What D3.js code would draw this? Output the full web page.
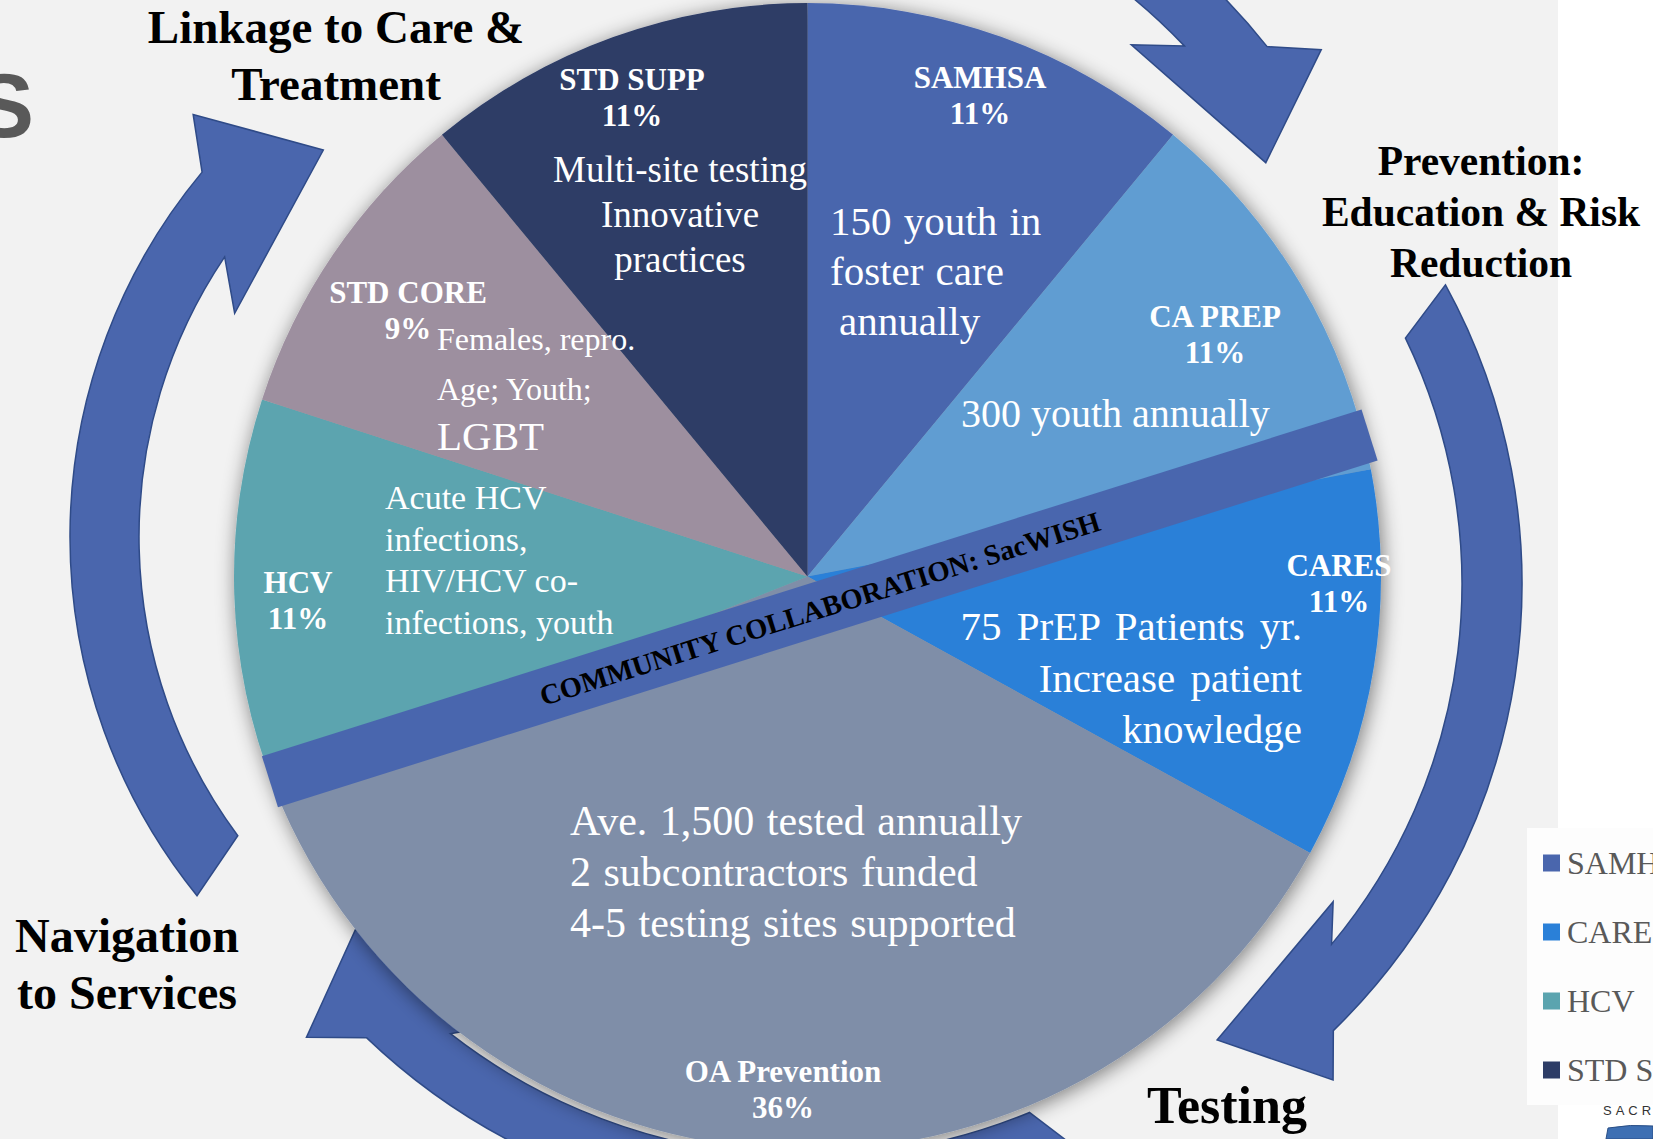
<!DOCTYPE html>
<html>
<head>
<meta charset="utf-8">
<script src="https://cdn.jsdelivr.net/npm/d3@7"></script>
<style>
  html, body { margin: 0; padding: 0; background: #fff; overflow: hidden; }
  svg { display: block; font-family: "Liberation Serif", "Times New Roman", serif; }
</style>
</head>
<body>
<svg id="chart" width="1653" height="1139"></svg>
<script>
// ---- data ----
const categories = ["SAMHSA", "CA PREP", "CARES", "OA Prevention", "HCV", "STD CORE", "STD SUPP"];
const shares = [11, 11, 11, 36, 11, 9, 11];
const sliceColors = ["#4a66ad", "#619dd2", "#2a80d8", "#7f8ea8", "#5ba4af", "#9d8f9f", "#2d3c66"];
const notes = [
  ["150 youth in", "foster care", "annually"],
  ["300 youth annually"],
  ["75 PrEP Patients yr.", "Increase patient", "knowledge"],
  ["Ave. 1,500 tested annually", "2 subcontractors funded", "4-5 testing sites supported"],
  ["Acute HCV", "infections,", "HIV/HCV co-", "infections, youth"],
  ["Females, repro.", "Age; Youth;", "LGBT"],
  ["Multi-site testing", "Innovative", "practices"]
];
const legendItems = ["SAMHSA", "CARES", "HCV", "STD SUPP"];
const stages = [
  ["Linkage to Care &", "Treatment"],
  ["Prevention:", "Education & Risk", "Reduction"],
  ["Testing"],
  ["Navigation", "to Services"]
];
const bandLabel = "COMMUNITY COLLABORATION: SacWISH";

// ---- layout ----
const W = 1653, H = 1139;
const cx = 807.5, cy = 576.6, R = 573.5;

// name + percent label of each slice
const nameAt = [[980, 88], [1215, 327], [1339, 576], [783, 1082], [298, 593], [408, 303], [632, 90]];
// free text of each slice
const noteAt = [
  { x: 830, y: 235, size: 41, anchor: "start", gap: 50, indent: [0, 0, 9], ws: 2 },
  { x: 961, y: 427, size: 40, anchor: "start", gap: 0 },
  { x: 1302, y: 640, size: 41, anchor: "end", gap: 51.7, ws: 5 },
  { x: 570, y: 835, size: 42, anchor: "start", gap: 50.8, ws: 2 },
  { x: 385, y: 509, size: 34, anchor: "start", gap: 41.5 },
  { x: 437, y: 350, size: 32, anchor: "start", gap: 50, sizes: [32, 32, 41] },
  { x: 680, y: 182, size: 37, anchor: "middle", gap: 45 }
];

// curved block arrows: angles in degrees clockwise from 12 o'clock
const arrows = [
  { c: [640, 537], ri: 501, ro: 570, tail: [233.4, 231], join: [304, 309.8], barbIn: [298.9, 463], barbOut: [313.4, 615], tip: [320.7, 500] },
  { c: [760, 450], ri: 586, ro: 648, tail: [15, 15], join: [46.4, 51.5], barbIn: [42.5, 549.6], barbOut: [54.5, 689.4], tip: [60.4, 581.7] },
  { c: [899, 584], ri: 563, ro: 623, tail: [64.1, 61.3], join: [129.8, 135.8], barbIn: [126.2, 538], barbOut: [138.8, 659], tip: [145.1, 556] },
  { c: [807.5, 576.6], ri: 580, ro: 638, tail: [157.5, 154.5], join: [218, 223.7], barbIn: [213, 530], barbOut: [227.4, 680.7], tip: [232, 573.8] }
];

const svg = d3.select("#chart");

// shadow under the pie
const defs = svg.append("defs");
const f = defs.append("filter").attr("id", "shadow")
  .attr("x", "-10%").attr("y", "-10%").attr("width", "120%").attr("height", "120%");
f.append("feGaussianBlur").attr("in", "SourceAlpha").attr("stdDeviation", 10);
f.append("feOffset").attr("dx", 2).attr("dy", 3).attr("result", "off");
f.append("feComponentTransfer").append("feFuncA").attr("type", "linear").attr("slope", 0.5);
const fm = f.append("feMerge");
fm.append("feMergeNode");
fm.append("feMergeNode").attr("in", "SourceGraphic");

// background
svg.append("rect").attr("width", W).attr("height", H).attr("fill", "#ffffff");
svg.append("rect").attr("width", 1558).attr("height", H).attr("fill", "#f2f2f2");

// big cut-off letter at top left
svg.append("text")
  .attr("x", 34).attr("y", 137)
  .attr("text-anchor", "end")
  .style("font-family", "'Liberation Sans', Arial, sans-serif")
  .style("font-size", "90px")
  .style("font-weight", "bold")
  .attr("fill", "#595959")
  .text("S");

// ---- arrows ----
const rad = a => (a - 90) * Math.PI / 180;
const pt = (c, a, r) => [c[0] + r * Math.cos(rad(a)), c[1] + r * Math.sin(rad(a))];

function arrowPath(d) {
  const p = d3.path();
  p.moveTo(...pt(d.c, d.tail[0], d.ri));
  p.arc(d.c[0], d.c[1], d.ri, rad(d.tail[0]), rad(d.join[0]), false);
  p.lineTo(...pt(d.c, d.barbIn[0], d.barbIn[1]));
  p.lineTo(...pt(d.c, d.tip[0], d.tip[1]));
  p.lineTo(...pt(d.c, d.barbOut[0], d.barbOut[1]));
  p.lineTo(...pt(d.c, d.join[1], d.ro));
  p.arc(d.c[0], d.c[1], d.ro, rad(d.join[1]), rad(d.tail[1]), true);
  p.closePath();
  return p.toString();
}

svg.append("g").selectAll("path")
  .data(arrows)
  .join("path")
  .attr("d", arrowPath)
  .attr("fill", "#4a66ad")
  .attr("stroke", "#2f4b88")
  .attr("stroke-width", 1.5)
  .attr("stroke-linejoin", "miter");

// ---- pie ----
const color = d3.scaleOrdinal().domain(categories).range(sliceColors);
const pie = d3.pie().sort(null).value(d => d.value);
const slices = pie(categories.map((k, i) => ({ key: k, value: shares[i] })));
const arc = d3.arc().innerRadius(0).outerRadius(R);

svg.append("g")
  .attr("transform", `translate(${cx},${cy})`)
  .attr("filter", "url(#shadow)")
  .selectAll("path")
  .data(slices)
  .join("path")
  .attr("d", arc)
  .attr("fill", d => color(d.data.key));

// ---- collaboration band ----
const bandC = [819.75, 608.3], bandLen = 1153, bandH = 53.5, bandAngle = -17.5;
const band = svg.append("g")
  .attr("transform", `translate(${bandC[0]},${bandC[1]}) rotate(${bandAngle})`);
band.append("rect")
  .attr("x", -bandLen / 2).attr("y", -bandH / 2)
  .attr("width", bandLen).attr("height", bandH)
  .attr("fill", "#4966ae");
band.append("text")
  .attr("x", 0).attr("y", 10)
  .attr("text-anchor", "middle")
  .style("font-size", "28.5px")
  .style("font-weight", "bold")
  .attr("fill", "#000")
  .text(bandLabel);

// ---- slice names ----
const names = svg.append("g")
  .attr("fill", "#fff")
  .style("font-weight", "bold")
  .style("font-size", "31px")
  .attr("text-anchor", "middle");

slices.forEach((d, i) => {
  const t = names.append("text").attr("x", nameAt[i][0]).attr("y", nameAt[i][1]);
  t.append("tspan").attr("x", nameAt[i][0]).text(d.data.key);
  t.append("tspan").attr("x", nameAt[i][0]).attr("dy", 35.5).text(d.data.value + "%");
});

// ---- slice notes ----
const noteG = svg.append("g").attr("fill", "#fff");
notes.forEach((lines, i) => {
  const L = noteAt[i];
  lines.forEach((line, j) => {
    noteG.append("text")
      .attr("x", L.x + (L.indent ? L.indent[j] : 0))
      .attr("y", L.y + j * L.gap)
      .attr("text-anchor", L.anchor)
      .style("font-size", (L.sizes ? L.sizes[j] : L.size) + "px")
      .style("word-spacing", (L.ws || 0) + "px")
      .text(line);
  });
});

// ---- stage titles ----
const stageAt = [
  { x: 336, y: 43, size: 47, gap: 57 },
  { x: 1481, y: 175, size: 41.5, gap: 51 },
  { x: 1227, y: 1123, size: 52, gap: 0 },
  { x: 127, y: 952, size: 48, gap: 56.5 }
];
const titles = svg.append("g")
  .attr("fill", "#000")
  .style("font-weight", "bold")
  .attr("text-anchor", "middle");
stages.forEach((lines, i) => {
  lines.forEach((line, j) => {
    titles.append("text")
      .attr("x", stageAt[i].x)
      .attr("y", stageAt[i].y + j * stageAt[i].gap)
      .style("font-size", stageAt[i].size + "px")
      .text(line);
  });
});

// ---- legend ----
const legend = svg.append("g");
legend.append("rect")
  .attr("x", 1527).attr("y", 828).attr("width", W - 1527).attr("height", 277)
  .attr("fill", "#fdfdfd");
const ly = d3.scalePoint().domain(legendItems).range([863, 1070]);
const items = legend.selectAll("g.item")
  .data(legendItems)
  .join("g")
  .attr("class", "item")
  .attr("transform", d => `translate(1543,${ly(d)})`);
items.append("rect")
  .attr("x", 0).attr("y", -8.5).attr("width", 17).attr("height", 17)
  .attr("fill", d => color(d));
items.append("text")
  .attr("x", 24).attr("y", 11)
  .style("font-size", "32px")
  .attr("fill", "#595959")
  .text(d => d);

// logo fragment bottom right
svg.append("text")
  .attr("x", 1603).attr("y", 1115)
  .style("font-family", "'Liberation Sans', Arial, sans-serif")
  .style("font-size", "13px")
  .style("letter-spacing", "4px")
  .attr("fill", "#333")
  .text("SACRAMENTO");
svg.append("path")
  .attr("d", "M1606,1139 L1608,1128 Q1630,1124 1653,1126 L1653,1139 Z")
  .attr("fill", "#3d6fb3")
  .attr("stroke", "#2a4f86")
  .attr("stroke-width", 1);
</script>
</body>
</html>
